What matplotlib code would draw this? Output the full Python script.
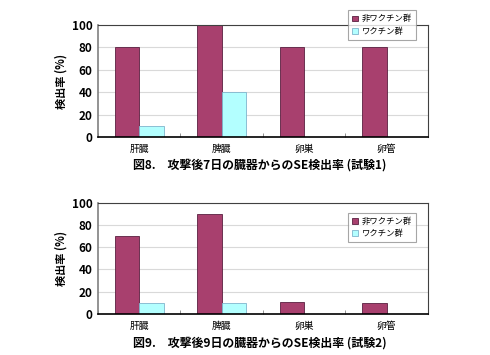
import matplotlib
matplotlib.use("Agg")
import matplotlib.pyplot as plt
import numpy as np

plt.rcParams['font.family'] = ['Noto Sans CJK JP', 'DejaVu Sans']

organs = ["肝臓", "脾臓", "卵巣", "卵管"]
series_names = ["非ワクチン群", "ワクチン群"]
trial1_nonvac = [80, 100, 80, 80]
trial1_vac = [10, 40, 0, 0]
trial2_nonvac = [70, 90, 11, 10]
trial2_vac = [10, 10, 0, 0]
captions = ["図8.　攻撃後7日の臓器からのSE検出率 (試験1)",
            "図9.　攻撃後9日の臓器からのSE検出率 (試験2)"]
yticks = [0, 20, 40, 60, 80, 100]

col_nonvac = "#a8406e"
col_vac = "#b3ffff"

fig = plt.figure(figsize=(4.9, 3.55), dpi=100)

# axes rectangles and legend / caption anchors (figure fractions)
panels = [
    dict(rect=[0.200, 0.614, 0.673, 0.316], leg=(0.702, 0.983), cap=0.535,
         a=trial1_nonvac, b=trial1_vac, title=captions[0]),
    dict(rect=[0.200, 0.116, 0.673, 0.313], leg=(0.702, 0.413), cap=0.033,
         a=trial2_nonvac, b=trial2_vac, title=captions[1]),
]

x = np.arange(len(organs))
w = 0.295

for p in panels:
    ax = fig.add_axes(p["rect"])
    ax.set_axisbelow(True)
    ax.yaxis.grid(True, color="#d9d9d9", lw=0.8)
    b1 = ax.bar(x - w / 2, p["a"], w, color=col_nonvac, edgecolor="#5a2040",
                lw=0.6, label=series_names[0])
    b2 = ax.bar(x + w / 2, p["b"], w, color=col_vac, edgecolor="#7fb4cc",
                lw=0.6, label=series_names[1])
    ax.set_xlim(-0.5, len(organs) - 0.5)
    ax.set_ylim(0, 100)
    ax.set_yticks(yticks)
    ax.set_xticks(x)
    ax.set_xticklabels(organs, fontsize=7)
    ax.set_xticks(np.arange(len(organs) + 1) - 0.5, minor=True)
    ax.tick_params(axis="x", which="major", length=0, pad=5)
    ax.tick_params(axis="x", which="minor", length=3, direction="in", color="#808080")
    ax.tick_params(axis="y", length=0, labelsize=8.5, pad=4)
    for lab in ax.get_yticklabels():
        lab.set_fontweight("bold")
    ax.set_ylabel("検出率 (%)", fontsize=8, fontweight="bold", labelpad=3)
    for s in ["top", "right"]:
        ax.spines[s].set_color("#404040")
        ax.spines[s].set_linewidth(0.8)
    ax.spines["left"].set_color("#808080")
    ax.spines["left"].set_linewidth(1.2)
    ax.spines["bottom"].set_color("black")
    ax.spines["bottom"].set_linewidth(1.2)
    leg = fig.legend(handles=[b1, b2], loc="upper left", bbox_to_anchor=p["leg"],
                     fontsize=6, frameon=True, fancybox=False, edgecolor="#909090",
                     handlelength=0.7, handleheight=0.7, handletextpad=0.4,
                     borderpad=0.5, labelspacing=0.4)
    leg.get_frame().set_linewidth(0.8)
    fig.text(0.53, p["cap"], p["title"], ha="center", va="center",
             fontsize=8.6, fontweight="bold")

fig.savefig("out.png", dpi=100)
